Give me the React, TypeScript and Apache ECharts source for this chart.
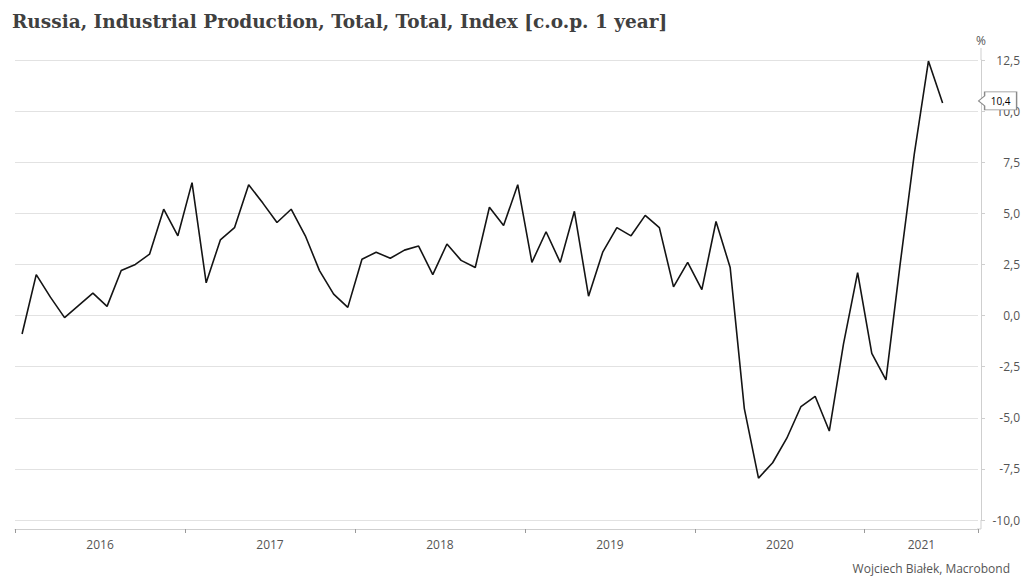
import React, { useEffect, useRef } from "react";
import * as echarts from "echarts";

const TITLE = "Russia, Industrial Production, Total, Total, Index [c.o.p. 1 year]";
const SOURCE = "Wojciech Białek, Macrobond";
const YEARS = [2016, 2017, 2018, 2019, 2020, 2021];
const PAD_MONTHS = 2; // empty slots after the last observation
const LABEL_INDEX = [6, 18, 30, 42, 54, 64];

// Monthly y/y change, Jan 2016 .. Jun 2021
const values = [
  -0.9, 2.0, 0.9, -0.1, 0.5, 1.1, 0.45, 2.2, 2.5, 3.0, 5.2, 3.9,
  6.5, 1.6, 3.7, 4.3, 6.4, 5.5, 4.55, 5.2, 3.9, 2.2, 1.05, 0.4,
  2.75, 3.1, 2.8, 3.2, 3.4, 2.0, 3.5, 2.7, 2.35, 5.3, 4.4, 6.4,
  2.6, 4.1, 2.6, 5.1, 0.95, 3.1, 4.3, 3.9, 4.9, 4.3, 1.4, 2.6,
  1.27, 4.6, 2.35, -4.55, -7.95, -7.2, -6.0, -4.45, -3.95, -5.65, -1.4, 2.1,
  -1.85, -3.15, 2.5, 7.9, 12.45, 10.4,
];

const Y_TICKS = { min: -10, max: 12.5, step: 2.5 };

const categories: string[] = [];
for (const y of YEARS) {
  for (let m = 1; m <= 12; m++) {
    if (categories.length < values.length + PAD_MONTHS) {
      categories.push(`${y}-${String(m).padStart(2, "0")}`);
    }
  }
}

const fmt = (v: number) => v.toFixed(1).replace(".", ",");

export default function App() {
  const ref = useRef<HTMLDivElement>(null);
  useEffect(() => {
    if (!ref.current) return;
    const chart = echarts.init(ref.current, null, { renderer: "svg" });
    const last = values.length - 1;
    const gridColor = "#e2e2e2";
    const axisColor = "#cfcfcf";
    chart.setOption({
      animation: false,
      backgroundColor: "#ffffff",
      title: [
        {
          text: TITLE,
          left: 7,
          top: 7,
          textStyle: {
            fontFamily: "DejaVu Serif",
            fontWeight: "bold",
            fontSize: 18.5,
            color: "#404040",
          },
        },
        {
          text: SOURCE,
          right: 9,
          bottom: 6,
          textStyle: {
            fontFamily: "Open Sans",
            fontWeight: "normal",
            fontSize: 12,
            color: "#555555",
          },
        },
      ],
      grid: { left: 15, right: 46, top: 60, bottom: 65, containLabel: false },
      xAxis: {
        type: "category",
        data: categories,
        boundaryGap: true,
        offset: 9,
        axisLine: { show: true, onZero: false, lineStyle: { color: axisColor, width: 1 } },
        axisTick: {
          show: true,
          length: 4,
          interval: (i: number) => i % 12 === 0,
          lineStyle: { color: "#9a9a9a" },
        },
        axisLabel: {
          interval: (i: number) => LABEL_INDEX.includes(i),
          margin: 9,
          formatter: (v: string) => `{y|${v.slice(0, 4)}}`,
          rich: {
            y: {
              fontFamily: "Open Sans",
              fontSize: 12,
              color: "#555555",
              padding: [0, 14, 0, 0],
            },
          },
        },
        splitLine: { show: false },
      },
      yAxis: {
        type: "value",
        position: "right",
        min: Y_TICKS.min,
        max: Y_TICKS.max,
        interval: Y_TICKS.step,
        offset: 3,
        name: "%",
        nameLocation: "end",
        nameGap: 14,
        nameTextStyle: { fontFamily: "Open Sans", fontSize: 12, color: "#555555", align: "center" },
        axisLine: { show: true, lineStyle: { color: axisColor, width: 1 } },
        axisTick: { show: true, length: 4, lineStyle: { color: axisColor } },
        axisLabel: {
          align: "right",
          margin: 39,
          fontFamily: "Open Sans",
          fontSize: 12,
          color: "#555555",
          formatter: (v: number) => fmt(v),
        },
        splitLine: { show: true, lineStyle: { color: gridColor, width: 1 } },
      },
      graphic: [
        { type: "line", shape: { x1: 981, y1: 48, x2: 981, y2: 60 }, style: { stroke: axisColor, lineWidth: 1 } },
        { type: "line", shape: { x1: 981, y1: 520, x2: 981, y2: 529 }, style: { stroke: axisColor, lineWidth: 1 } },
        { type: "line", shape: { x1: 977, y1: 529, x2: 981, y2: 529 }, style: { stroke: axisColor, lineWidth: 1 } },
      ],
      series: [
        {
          type: "line",
          data: values,
          symbol: "none",
          lineStyle: { color: "#141414", width: 1.6 },
          markPoint: {
            symbol: "path://M0,9L6,4L6,0L38,0L38,18L6,18L6,14Z",
            symbolSize: [38, 18],
            symbolKeepAspect: false,
            symbolOffset: [55, -2],
            itemStyle: { color: "#ffffff", borderColor: "#8a8a8a", borderWidth: 1 },
            label: {
              show: true,
              position: "inside",
              offset: [3, 0],
              fontFamily: "Open Sans",
              fontSize: 10,
              color: "#000000",
              formatter: () => fmt(values[last]),
            },
            data: [{ coord: [last, values[last]], value: values[last] }],
          },
        },
      ],
    });
    return () => chart.dispose();
  }, []);
  return (
    <div
      ref={ref}
      style={{ position: "fixed", left: 0, top: 0, width: 1024, height: 585 }}
    />
  );
}
